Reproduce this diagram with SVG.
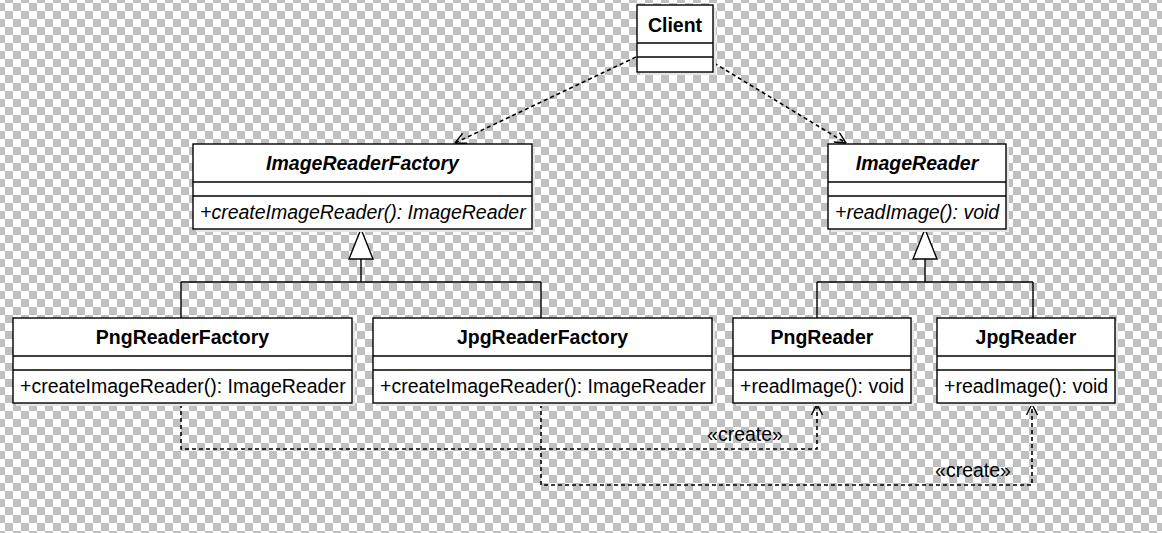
<svg xmlns="http://www.w3.org/2000/svg" width="1162" height="533" viewBox="0 0 1162 533">
<defs>
<pattern id="checker" x="5" y="3" width="16" height="16" patternUnits="userSpaceOnUse">
<rect width="16" height="16" fill="#ffffff"/>
<rect x="8" y="0" width="8" height="8" fill="#c0c0c0"/>
<rect x="0" y="8" width="8" height="8" fill="#c0c0c0"/>
</pattern>
<marker id="open" markerUnits="userSpaceOnUse" viewBox="0 0 12 12" refX="11.5" refY="6" markerWidth="12" markerHeight="12" orient="auto">
<path d="M0.5,0.5 L11.5,6 L0.5,11.5" fill="none" stroke="#000" stroke-width="1.4" stroke-dasharray="none"/>
</marker>
<style>
.box{fill:#ffffff;stroke:#000;stroke-width:1.4}
.shadow{fill:#e6e6e6}
.sep{stroke:#000;stroke-width:1.4}
.t{font-family:"Liberation Sans",Arial,sans-serif;font-size:19.5px;fill:#000}
.h{font-weight:bold;text-anchor:middle}
.i{font-style:italic}
.m{text-anchor:start}
.c{text-anchor:middle}
.solid{fill:none;stroke:#000;stroke-width:1.4}
.dash{fill:none;stroke:#000;stroke-width:1.6;stroke-dasharray:4 3}
.tri{fill:#ffffff;stroke:#000;stroke-width:1.4}
</style>
</defs>
<rect width="1162" height="533" fill="url(#checker)"/>

<g id="connectors">
<path class="dash" d="M636,57 L455,143" marker-end="url(#open)"/>
<path class="dash" d="M714,63 L846,143" marker-end="url(#open)"/>
<path class="solid" d="M361,259 V282 M181,282 H541 M181,282 V318 M541,282 V318"/>
<polygon class="tri" points="361,229 373,259 349,259"/>
<path class="solid" d="M925,259 V282 M817,282 H1033 M817,282 V318 M1033,282 V318"/>
<polygon class="tri" points="925,229 937,259 913,259"/>
<path class="dash" d="M181,404 V449 H817 V404" marker-end="url(#open)"/>
<path class="dash" d="M541,404 V485 H1032 V404" marker-end="url(#open)"/>
<text class="t c" x="745" y="441">«create»</text>
<text class="t c" x="973" y="477">«create»</text>
</g>

<g id="client">
<rect class="shadow" x="640" y="8" width="76" height="67"/>
<rect class="box" x="637" y="5" width="76" height="67"/>
<line class="sep" x1="637" y1="43" x2="713" y2="43"/>
<line class="sep" x1="637" y1="57" x2="713" y2="57"/>
<text class="t h" x="675" y="32">Client</text>
</g>

<g id="imageReaderFactory">
<rect class="shadow" x="196" y="147" width="339" height="85"/>
<rect class="box" x="193" y="144" width="339" height="85"/>
<line class="sep" x1="193" y1="182" x2="532" y2="182"/>
<line class="sep" x1="193" y1="196" x2="532" y2="196"/>
<text class="t h i" x="362.5" y="170">ImageReaderFactory</text>
<text class="t m i" x="200" y="219">+createImageReader(): ImageReader</text>
</g>

<g id="imageReader">
<rect class="shadow" x="831" y="147" width="178" height="85"/>
<rect class="box" x="828" y="144" width="178" height="85"/>
<line class="sep" x1="828" y1="182" x2="1006" y2="182"/>
<line class="sep" x1="828" y1="196" x2="1006" y2="196"/>
<text class="t h i" x="917" y="170">ImageReader</text>
<text class="t m i" x="835" y="219">+readImage(): void</text>
</g>

<g id="pngReaderFactory">
<rect class="shadow" x="16" y="321" width="339" height="85"/>
<rect class="box" x="13" y="318" width="339" height="85"/>
<line class="sep" x1="13" y1="356" x2="352" y2="356"/>
<line class="sep" x1="13" y1="370" x2="352" y2="370"/>
<text class="t h" x="182.5" y="344">PngReaderFactory</text>
<text class="t m" x="20" y="393">+createImageReader(): ImageReader</text>
</g>

<g id="jpgReaderFactory">
<rect class="shadow" x="376" y="321" width="339" height="85"/>
<rect class="box" x="373" y="318" width="339" height="85"/>
<line class="sep" x1="373" y1="356" x2="712" y2="356"/>
<line class="sep" x1="373" y1="370" x2="712" y2="370"/>
<text class="t h" x="542.5" y="344">JpgReaderFactory</text>
<text class="t m" x="380" y="393">+createImageReader(): ImageReader</text>
</g>

<g id="pngReader">
<rect class="shadow" x="736" y="321" width="178" height="85"/>
<rect class="box" x="733" y="318" width="178" height="85"/>
<line class="sep" x1="733" y1="356" x2="911" y2="356"/>
<line class="sep" x1="733" y1="370" x2="911" y2="370"/>
<text class="t h" x="822" y="344">PngReader</text>
<text class="t m" x="740" y="393">+readImage(): void</text>
</g>

<g id="jpgReader">
<rect class="shadow" x="940" y="321" width="178" height="85"/>
<rect class="box" x="937" y="318" width="178" height="85"/>
<line class="sep" x1="937" y1="356" x2="1115" y2="356"/>
<line class="sep" x1="937" y1="370" x2="1115" y2="370"/>
<text class="t h" x="1026" y="344">JpgReader</text>
<text class="t m" x="944" y="393">+readImage(): void</text>
</g>
</svg>
